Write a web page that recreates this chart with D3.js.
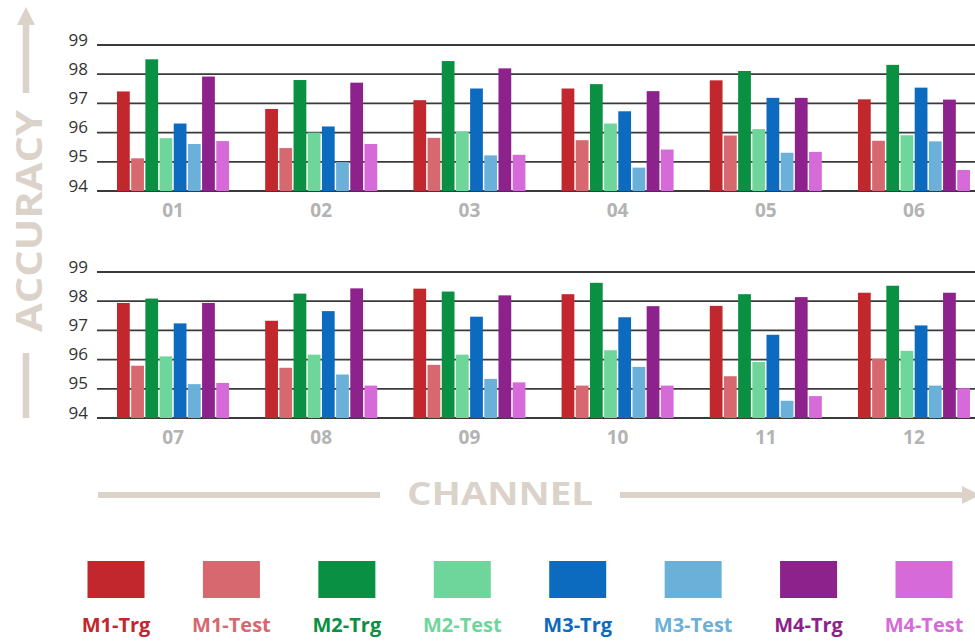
<!DOCTYPE html>
<html>
<head>
<meta charset="utf-8">
<script src="https://cdn.jsdelivr.net/npm/d3@7"></script>
<style>
    body { margin: 0; background: #fff; }
    svg { display: block; font-family: "Open Sans", sans-serif; }
    .tick-label { font-size: 17px; fill: #333; }
    .group-label { font-size: 19px; font-weight: 700; fill: #b3b3b3; }
    .axis-title { font-weight: 700; fill: #dbd3ca; }
    .legend-label { font-size: 20px; font-weight: 700; }
</style>
</head>
<body>
<div id="chart"></div>
<script>

// series (legend order)
let series = ["M1-Trg", "M1-Test", "M2-Trg", "M2-Test", "M3-Trg", "M3-Test", "M4-Trg", "M4-Test"];
let seriesColors = ["#c1272d", "#d8686f", "#0a9042", "#6ed69b", "#0c6bbf", "#6bb0d8", "#8e228c", "#d66ad9"];

// channels, one row per panel
let channelsTop = ["01", "02", "03", "04", "05", "06"];
let channelsBottom = ["07", "08", "09", "10", "11", "12"];

// y ticks
let yTicks = [94, 95, 96, 97, 98, 99];

// accuracy per channel, in series order
let M1Trg  = [97.41, 96.81, 97.11, 97.51, 97.79, 97.14, 97.94, 97.33, 98.43, 98.24, 97.84, 98.29];
let M1Test = [95.12, 95.47, 95.82, 95.74, 95.90, 95.72, 95.79, 95.72, 95.82, 95.11, 95.43, 96.03];
let M2Trg  = [98.51, 97.80, 98.45, 97.66, 98.11, 98.32, 98.09, 98.26, 98.33, 98.63, 98.24, 98.53];
let M2Test = [95.81, 96.00, 96.04, 96.31, 96.12, 95.91, 96.11, 96.17, 96.17, 96.32, 95.92, 96.30];
let M3Trg  = [96.31, 96.21, 97.51, 96.73, 97.19, 97.54, 97.24, 97.66, 97.47, 97.45, 96.85, 97.17];
let M3Test = [95.61, 94.99, 95.22, 94.80, 95.31, 95.70, 95.16, 95.49, 95.34, 95.75, 94.59, 95.11];
let M4Trg  = [97.92, 97.71, 98.20, 97.42, 97.19, 97.13, 97.94, 98.44, 98.20, 97.83, 98.14, 98.29];
let M4Test = [95.71, 95.61, 95.24, 95.42, 95.34, 94.72, 95.20, 95.11, 95.22, 95.11, 94.75, 95.02];

let seriesValues = [M1Trg, M1Test, M2Trg, M2Test, M3Trg, M3Test, M4Trg, M4Test];


let width = 975, height = 641;

let svg = d3.select("#chart").append("svg")
    .attr("width", width)
    .attr("height", height);

// group scale, shared by both panels
let x0 = d3.scaleBand()
    .domain(d3.range(6))
    .range([117, 970])
    .paddingInner(0.244)
    .paddingOuter(0);

let x1 = d3.scaleBand()
    .domain(series)
    .range([0, x0.bandwidth()])
    .paddingInner(0.1)
    .paddingOuter(0);

let color = d3.scaleOrdinal().domain(series).range(seriesColors);

function drawPanel(channels, offset, yTop, yBottom) {
    let y = d3.scaleLinear().domain([94, 99]).range([yBottom, yTop]);

    let g = svg.append("g").attr("class", "panel");

    // grid lines
    g.selectAll(".grid")
        .data(yTicks)
        .enter().append("line")
        .attr("class", "grid")
        .attr("x1", 97)
        .attr("x2", width)
        .attr("y1", d => y(d))
        .attr("y2", d => y(d))
        .attr("stroke", "#3a3a3a")
        .attr("stroke-width", 1.8);

    // tick labels
    g.selectAll(".tick-label")
        .data(yTicks)
        .enter().append("text")
        .attr("class", "tick-label")
        .attr("x", 88)
        .attr("y", d => y(d) - 4)
        .attr("text-anchor", "end")
        .attr("dominant-baseline", "middle")
        .text(d => d);

    // bars
    let groups = g.selectAll(".group")
        .data(channels)
        .enter().append("g")
        .attr("class", "group")
        .attr("transform", (d, i) => "translate(" + x0(i) + ",0)");

    groups.selectAll("rect")
        .data((d, i) => series.map((s, k) => ({key: s, value: seriesValues[k][offset + i]})))
        .enter().append("rect")
        .attr("x", d => x1(d.key))
        .attr("width", x1.bandwidth())
        .attr("y", d => y(d.value))
        .attr("height", d => y(94) - y(d.value))
        .attr("fill", d => color(d.key));

    // channel labels
    groups.append("text")
        .attr("class", "group-label")
        .attr("x", x0.bandwidth() / 2)
        .attr("y", yBottom + 26)
        .attr("text-anchor", "middle")
        .text(d => d);
}

drawPanel(channelsTop, 0, 45, 191);
drawPanel(channelsBottom, 6, 272, 418);

let axisColor = "#dbd3ca";

// ACCURACY title with arrow
svg.append("text")
    .attr("class", "axis-title")
    .attr("transform", "translate(42,221) rotate(-90)")
    .attr("text-anchor", "middle")
    .attr("font-size", 36)
    .attr("textLength", 222)
    .attr("lengthAdjust", "spacingAndGlyphs")
    .text("ACCURACY");

svg.append("line")
    .attr("x1", 26).attr("x2", 26)
    .attr("y1", 22).attr("y2", 93)
    .attr("stroke", axisColor).attr("stroke-width", 6.5);
svg.append("path")
    .attr("d", "M17,25 L26,7 L35,25 Z")
    .attr("fill", axisColor);
svg.append("line")
    .attr("x1", 26).attr("x2", 26)
    .attr("y1", 353).attr("y2", 418)
    .attr("stroke", axisColor).attr("stroke-width", 6.5);

// CHANNEL title with arrow
svg.append("text")
    .attr("class", "axis-title")
    .attr("x", 500)
    .attr("y", 505)
    .attr("text-anchor", "middle")
    .attr("font-size", 32)
    .attr("textLength", 186)
    .attr("lengthAdjust", "spacingAndGlyphs")
    .text("CHANNEL");

svg.append("line")
    .attr("x1", 98).attr("x2", 380)
    .attr("y1", 495).attr("y2", 495)
    .attr("stroke", axisColor).attr("stroke-width", 6);
svg.append("line")
    .attr("x1", 620).attr("x2", 966)
    .attr("y1", 495).attr("y2", 495)
    .attr("stroke", axisColor).attr("stroke-width", 6);
svg.append("path")
    .attr("d", "M962,486 L980,495 L962,504 Z")
    .attr("fill", axisColor);

// legend
let legendX = d3.scalePoint()
    .domain(series)
    .range([116, 924]);

let legend = svg.selectAll(".legend")
    .data(series)
    .enter().append("g")
    .attr("class", "legend")
    .attr("transform", d => "translate(" + legendX(d) + ",0)");

legend.append("rect")
    .attr("x", -28.5)
    .attr("y", 561)
    .attr("width", 57)
    .attr("height", 37)
    .attr("fill", d => color(d));

legend.append("text")
    .attr("class", "legend-label")
    .attr("x", 0)
    .attr("y", 632)
    .attr("text-anchor", "middle")
    .attr("fill", d => color(d))
    .text(d => d);

</script>
</body>
</html>
